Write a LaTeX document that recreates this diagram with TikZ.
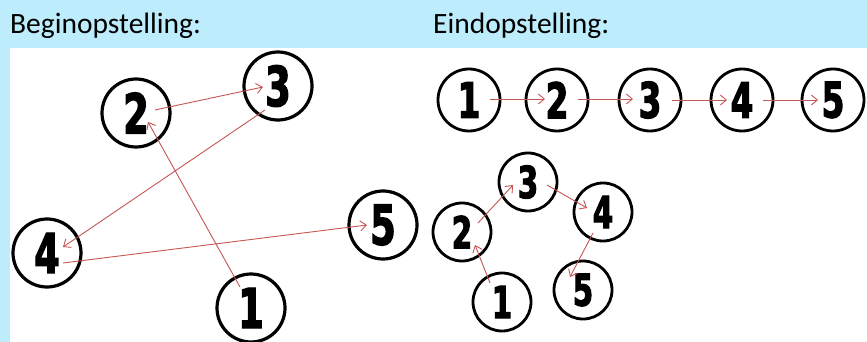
\documentclass[tikz,border=0pt]{standalone}
\usepackage{fontspec}
\setmainfont{Carlito}
\newfontfamily\digitfont{DejaVu Sans}[FakeStretch=0.66,FakeBold=2.5]
\usetikzlibrary{arrows.meta}
\definecolor{bgblue}{RGB}{189,237,252}
\definecolor{arrred}{RGB}{196,86,84}
\begin{document}
\begin{tikzpicture}[x=1pt,y=-1pt,
  numL/.style={circle,draw=black,line width=3.2pt,minimum size=68pt,inner sep=0pt,
    font=\digitfont\bfseries\fontsize{55pt}{55pt}\selectfont},
  numT/.style={circle,draw=black,line width=2.8pt,minimum size=62pt,inner sep=0pt,
    font=\digitfont\bfseries\fontsize{49pt}{49pt}\selectfont},
  numB/.style={circle,draw=black,line width=2.8pt,minimum size=58pt,inner sep=0pt,
    font=\digitfont\bfseries\fontsize{44pt}{44pt}\selectfont},
  arr/.style={draw=arrred,line width=0.9pt,-{Straight Barb[length=6pt,width=10pt]}},
  title/.style={anchor=base west,inner sep=0pt,font=\fontsize{29.5pt}{34pt}\selectfont}]
\useasboundingbox (0,0) rectangle (867,342);
\fill[bgblue] (0,0) rectangle (867,342);
\fill[white] (10,48) rectangle (867,342);
\node[title] (tb) at (10,34) {Beginopstelling:};
\node[title] (te) at (433,34) {Eindopstelling:};
% left panel
\node[numL] (L1) at (251,308) {1};
\node[numL] (L2) at (136,113) {2};
\node[numL] (L3) at (278,86) {3};
\node[numL] (L4) at (47,253) {4};
\node[numL] (L5) at (383,225) {5};
\draw[arr] ([shift={(19,-3)}]L2.center) -- ([shift={(-15,1)}]L3.center);
\draw[arr] ([shift={(-13,24)}]L3.center) -- ([shift={(16,-6)}]L4.center);
\draw[arr] ([shift={(-11,-21)}]L1.center) -- ([shift={(12,9)}]L2.center);
\draw[arr] ([shift={(16,10)}]L4.center) -- ([shift={(-16,0)}]L5.center);
% top right row
\node[numT] (T1) at (469,100) {1};
\node[numT] (T2) at (557,100) {2};
\node[numT] (T3) at (650,100) {3};
\node[numT] (T4) at (742,100) {4};
\node[numT] (T5) at (833,100) {5};
\draw[arr] ([shift={(21,-1)}]T1.center) -- ([shift={(-12,-1)}]T2.center);
\draw[arr] ([shift={(21,-1)}]T2.center) -- ([shift={(-17,-1)}]T3.center);
\draw[arr] ([shift={(22,0)}]T3.center) -- ([shift={(-15,0)}]T4.center);
\draw[arr] ([shift={(21,0)}]T4.center) -- ([shift={(-15,0)}]T5.center);
% bottom right cluster
\node[numB] (B1) at (502,302) {1};
\node[numB] (B2) at (462,232) {2};
\node[numB] (B3) at (528,182) {3};
\node[numB] (B4) at (603,212) {4};
\node[numB] (B5) at (583,290) {5};
\draw[arr] ([shift={(-12,-19)}]B1.center) -- ([shift={(13,13)}]B2.center);
\draw[arr] ([shift={(16,-9)}]B2.center) -- ([shift={(-15,3)}]B3.center);
\draw[arr] ([shift={(19,3)}]B3.center) -- ([shift={(-16,-4)}]B4.center);
\draw[arr] ([shift={(-10,21)}]B4.center) -- ([shift={(-13,-13)}]B5.center);
\end{tikzpicture}
\end{document}
